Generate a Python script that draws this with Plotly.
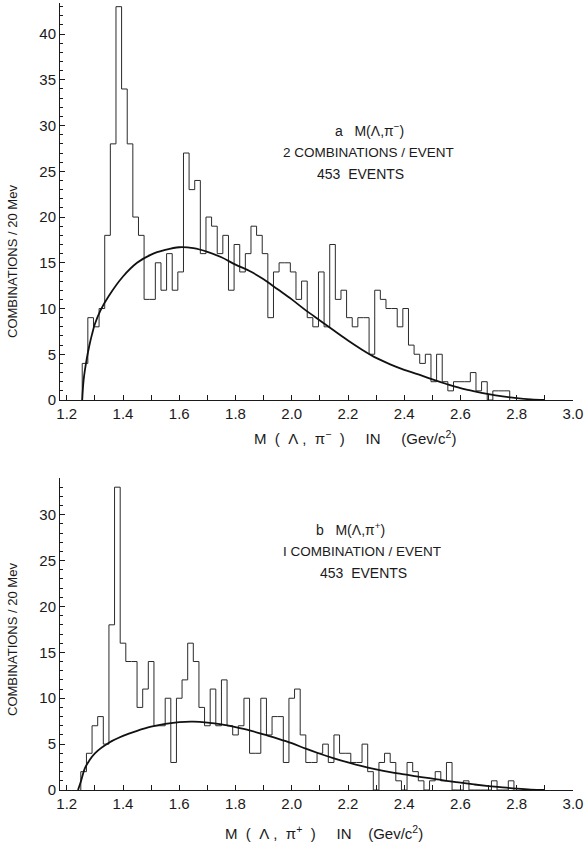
import numpy as np
import plotly.graph_objects as go

# ---------------- data ----------------
bin_width = 0.02
top_first_edge = 1.255
top_counts = [4, 9, 8, 10, 18, 28, 43, 34, 28, 20,
              18, 11, 11, 15, 12, 16, 12, 14, 27, 23,
              24, 16, 20, 19, 16, 18, 12, 17, 14, 16,
              19, 18, 16, 9, 14, 15, 15, 14, 11, 13,
              9, 8, 14, 8, 17, 11, 12, 9, 8, 9,
              9, 5, 12, 11, 10, 10, 8, 10, 6, 5,
              4, 5, 2, 5, 2, 1, 2, 2, 2, 3,
              1, 2, 0, 1, 1, 1]

bot_first_edge = 1.25
bot_counts = [2, 4, 7, 8, 5, 18, 33, 16, 14, 14,
              9, 11, 14, 7, 7, 10, 3, 10, 12, 16,
              14, 9, 7, 11, 7, 12, 7, 6, 7, 10,
              4, 4, 10, 6, 8, 8, 3, 10, 11, 6,
              3, 3, 4, 5, 3, 6, 4, 4, 3, 3,
              5, 2, 0, 3, 4, 3, 1, 0, 3, 2,
              1, 0, 1, 2, 1, 3, 0, 0, 1, 0,
              0, 0, 0, 1, 0, 0, 1]

top_curve_x = [1.255, 1.26, 1.27, 1.28, 1.29, 1.30, 1.32, 1.35, 1.40, 1.45, 1.50,
               1.55, 1.60, 1.65, 1.70, 1.75, 1.80, 1.85, 1.90, 1.95, 2.00,
               2.05, 2.10, 2.15, 2.20, 2.25, 2.30, 2.35, 2.40, 2.45, 2.50,
               2.55, 2.60, 2.65, 2.70, 2.75, 2.80, 2.85, 2.90]
top_curve_y = [0.0, 2.2, 4.3, 5.9, 7.2, 8.3, 9.8, 11.4, 13.5, 15.0, 15.9,
               16.4, 16.7, 16.6, 16.2, 15.6, 14.8, 14.1, 13.2, 12.1, 11.0,
               9.8, 8.7, 7.6, 6.5, 5.5, 4.6, 3.9, 3.3, 2.8, 2.25,
               1.75, 1.3, 0.95, 0.65, 0.4, 0.2, 0.07, 0.0]

bot_curve_x = [1.24, 1.25, 1.265, 1.28, 1.30, 1.35, 1.40, 1.45, 1.50, 1.55,
               1.60, 1.65, 1.70, 1.75, 1.80, 1.85, 1.90, 1.95, 2.00, 2.05,
               2.10, 2.15, 2.20, 2.25, 2.30, 2.35, 2.40, 2.45, 2.50, 2.55,
               2.60, 2.65, 2.70, 2.75, 2.80, 2.85, 2.90]
bot_curve_y = [0.0, 0.9, 2.4, 3.2, 4.0, 5.15, 5.9, 6.45, 6.9, 7.2,
               7.4, 7.45, 7.35, 7.15, 6.85, 6.5, 6.05, 5.6, 5.1, 4.5,
               3.95, 3.45, 3.0, 2.6, 2.25, 1.95, 1.7, 1.45, 1.25, 1.0,
               0.8, 0.6, 0.43, 0.28, 0.15, 0.05, 0.0]

x_tick_vals = [1.2, 1.4, 1.6, 1.8, 2.0, 2.2, 2.4, 2.6, 2.8, 3.0]
x_tick_text = ["1.2", "1.4", "1.6", "1.8", "2.0", "2.2", "2.4", "2.6", "2.8", "3.0"]


def step_xy(first_edge, counts):
    edges = first_edge + bin_width * np.arange(len(counts) + 1)
    xs = [edges[0]] + list(edges[:-1]) + [edges[-1]]
    ys = [0] + list(counts) + [0]
    return xs, ys


# ---------------- figure ----------------
W, H = 586, 850
ML, MR, MT, MB = 60, 13, 3, 60
PW, PH = W - ML - MR, H - MT - MB


def px(x):
    return (x - ML) / PW


def py(y):
    return (H - MB - y) / PH


INK = "#1a1a1a"
FONT = "Liberation Sans, Arial, sans-serif"

fig = go.Figure()

tx, ty = step_xy(top_first_edge, top_counts)
fig.add_trace(go.Scatter(x=tx, y=ty, mode="lines", line=dict(shape="hv", color="#2a2a2a", width=1),
                         xaxis="x", yaxis="y", hoverinfo="skip"))
fig.add_trace(go.Scatter(x=top_curve_x, y=top_curve_y, mode="lines",
                         line=dict(shape="spline", color="#111111", width=1.8),
                         xaxis="x", yaxis="y", hoverinfo="skip"))

bx, by = step_xy(bot_first_edge, bot_counts)
fig.add_trace(go.Scatter(x=bx, y=by, mode="lines", line=dict(shape="hv", color="#2a2a2a", width=1),
                         xaxis="x2", yaxis="y2", hoverinfo="skip"))
fig.add_trace(go.Scatter(x=bot_curve_x, y=bot_curve_y, mode="lines",
                         line=dict(shape="spline", color="#111111", width=1.8),
                         xaxis="x2", yaxis="y2", hoverinfo="skip"))

xax = dict(range=[1.176, 3.0], showline=True, linecolor=INK, linewidth=1,
           ticks="inside", ticklen=5, tickcolor=INK, tickwidth=1,
           tickvals=x_tick_vals, ticktext=x_tick_text, ticklabeloverflow="allow",
           minor=dict(dtick=0.1, tick0=1.2, ticks="inside", ticklen=5, tickcolor=INK),
           showgrid=False, zeroline=False, tickfont=dict(size=15, color=INK, family=FONT))
yax = dict(showline=True, linecolor=INK, linewidth=1, ticks="inside", ticklen=5,
           tickcolor=INK, dtick=5, tick0=0,
           minor=dict(dtick=1, ticks="inside", ticklen=3, tickcolor=INK),
           showgrid=False, zeroline=False, tickfont=dict(size=15, color=INK, family=FONT))

top_dom = [py(400), 1.0]
bot_dom = [0.0, py(478)]

fig.update_layout(
    width=W, height=H,
    margin=dict(l=ML, r=MR, t=MT, b=MB),
    paper_bgcolor="white", plot_bgcolor="white",
    showlegend=False,
    xaxis=dict(xax, anchor="y"),
    yaxis=dict(yax, domain=top_dom, range=[0, 43.4], anchor="x"),
    xaxis2=dict(xax, anchor="y2"),
    yaxis2=dict(yax, domain=bot_dom, range=[0, 34], anchor="x2"),
    font=dict(family=FONT, color=INK),
)

NB = "\u00a0"
ann = [
    ("a" + NB * 3 + "M(Λ,π<sup>−</sup>)", 369, 130, 14, 0),
    ("2 COMBINATIONS / EVENT", 368, 152, 13.5, 0),
    ("453" + NB * 2 + "EVENTS", 360, 174, 14, 0),
    ("b" + NB * 3 + "M(Λ,π<sup>+</sup>)", 350, 529, 14, 0),
    ("I COMBINATION / EVENT", 362, 551, 13.5, 0),
    ("453" + NB * 2 + "EVENTS", 363, 573, 14, 0),
    ("M" + NB * 2 + "(" + NB * 2 + "Λ" + NB + "," + NB * 2 + "π<sup>−</sup>" + NB * 2 + ")"
     + NB * 5 + "IN" + NB * 5 + "(Gev/c<sup>2</sup>)", 355, 437, 15, 0),
    ("M" + NB * 2 + "(" + NB * 2 + "Λ" + NB + "," + NB * 2 + "π<sup>+</sup>" + NB * 2 + ")"
     + NB * 5 + "IN" + NB * 4 + "(Gev/c<sup>2</sup>)", 324, 832, 15, 0),
    ("COMBINATIONS / 20 Mev", 12, 262, 13, -90),
    ("COMBINATIONS / 20 Mev", 12, 640, 13, -90),
]
for text, x, y, size, ang in ann:
    fig.add_annotation(text=text, x=px(x), y=py(y), xref="paper", yref="paper",
                       showarrow=False, xanchor="center", yanchor="middle",
                       textangle=ang, font=dict(size=size, color=INK, family=FONT))

fig.write_html("out.html", config={"displayModeBar": False},
               post_script="document.body.style.margin='0';")
